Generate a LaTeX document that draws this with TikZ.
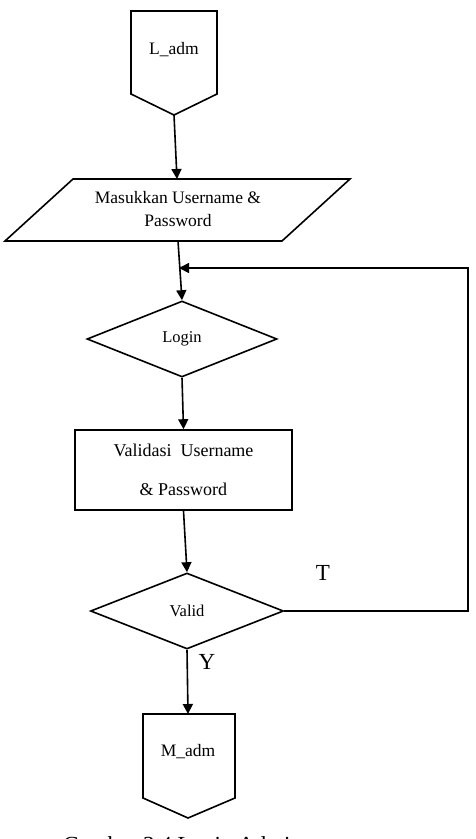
\documentclass[tikz,border=0pt]{standalone}
\usepackage{fontspec}
\setmainfont{Liberation Serif}
\usetikzlibrary{shapes.geometric,arrows.meta,calc}

\tikzset{
  shp/.style={draw, line width=1.6pt, line join=miter},
  txt/.style={font=\fontsize{17.5}{21}\selectfont, align=center, inner sep=0pt},
  decision/.style={shp, diamond, minimum width=#1, minimum height=76pt, inner sep=0pt,
    font=\fontsize{16.5}{20}\selectfont},
  procbox/.style={shp, rectangle, minimum width=217pt, minimum height=80pt, inner sep=0pt,
    font=\fontsize{18}{39}\selectfont, align=center},
  flow/.style={->, line width=1.6pt},
  yesno/.style={font=\fontsize{23}{26}\selectfont, inner sep=0pt}
}

\begin{document}
\begin{tikzpicture}[x=1pt, y=-1pt, >={Triangle[length=10pt,width=10pt]}]
      \clip (0,0) rectangle (476,839);
      \fill[white] (0,0) rectangle (476,839);

      % off-page connector L_adm
      \draw[shp] (131,11) -- (217,11) -- (217,94) -- (174,115) coordinate (ladmpt)
        -- (131,94) -- cycle;
      \node[txt] (ladm) at (174,50) {L\_adm};

      % input
      \draw[shp] (73,179) -- (350,179) -- (282,241) -- (5,241) -- cycle;
      \coordinate (intop) at (177,179);
      \coordinate (inbot) at (178,241);
      \node[txt, font=\fontsize{17.5}{23}\selectfont] (input) at (178,209)
        {Masukkan Username \&\\Password};

      \node[decision=190pt] (login) at (182,339) {Login};
      \node[procbox] (valrect) at (183.5,470) {Validasi\ \ Username\\\& Password};
      \node[decision=193pt] (valid) at (187,611) {Valid};

      % off-page connector M_adm
      \draw[shp] (143,714) coordinate (madmtop) -- (235,714) -- (235,798) -- (188,818)
        -- (143,798) -- cycle;
      \coordinate (madmin) at (188,714);
      \node[txt] (madm) at (188,752) {M\_adm};

      \draw[flow] (ladmpt) -- (intop);
      \draw[flow] (inbot) -- (login.north);
      \draw[flow] (login.south) -- (valrect.north);
      \draw[flow] (valrect.south) -- (valid.north);
      \draw[flow] (valid.south) -- (madmin);

      % loop back on T
      \coordinate (corner) at (468,611);
      \coordinate (back) at (179,268);
      \draw[flow] (valid.east) -- (valid.east -| corner) |- (back);

      \node[yesno] (tlbl) at (323,573) {T};
      \node[yesno] (ylbl) at (207,662) {Y};

      \node[anchor=base west, inner sep=0pt, font=\fontsize{23}{26}\selectfont]
        (caption) at (63,852) {Gambar 3.4 Login Admin};
    \end{tikzpicture}
\end{document}
